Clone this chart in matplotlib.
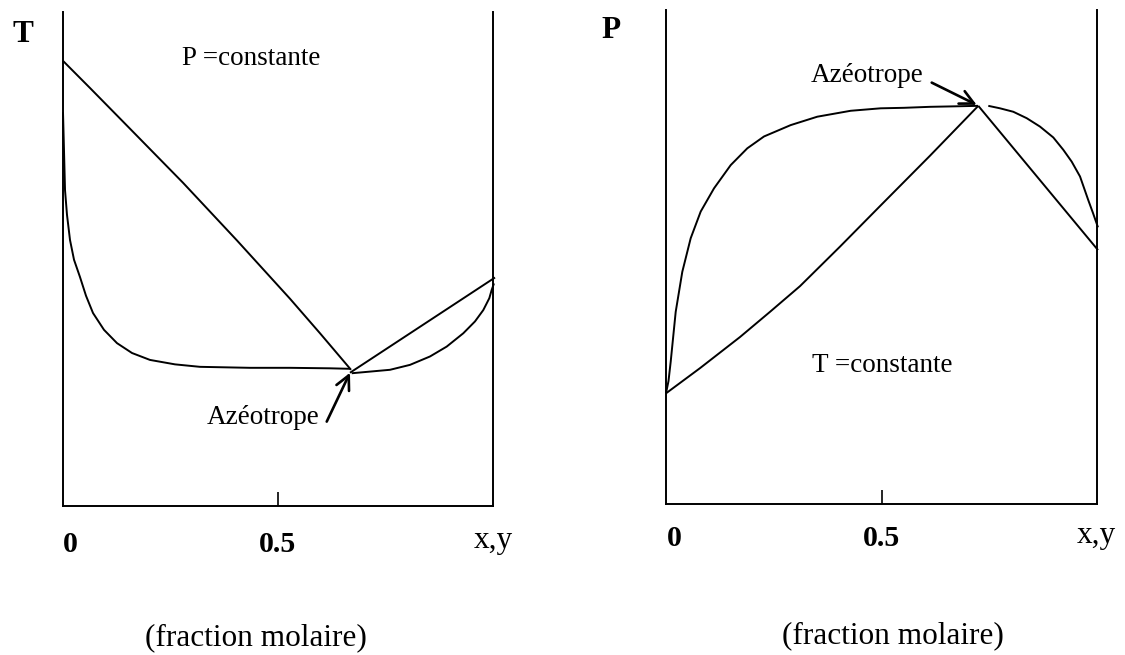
import matplotlib
matplotlib.use("Agg")
import matplotlib.pyplot as plt

plt.rcParams['font.family'] = ['Liberation Serif', 'DejaVu Serif']

# ---- Left panel: T-x,y diagram at constant pressure (minimum-boiling azeotrope)
t_bubble_x = [0.0, 0.0023, 0.0047, 0.0093, 0.0163, 0.0256, 0.0395, 0.0535, 0.0698,
              0.0953, 0.1256, 0.1605, 0.2023, 0.2605, 0.3186, 0.4349, 0.5279, 0.6209, 0.6674]
t_bubble_y = [79.8, 72.1, 64.0, 59.0, 53.9, 49.9, 46.4, 42.6, 39.1,
              35.7, 33.0, 31.0, 29.6, 28.7, 28.2, 28.0, 28.0, 27.9, 27.8]
t_dew_x = [0.0, 0.0628, 0.1395, 0.2791, 0.4047, 0.5279, 0.5977, 0.6698]
t_dew_y = [90.2, 84.7, 77.9, 65.5, 53.8, 42.0, 35.0, 27.6]
t_dew_right_x = [0.6674, 1.0047]
t_dew_right_y = [27.0, 46.3]
t_bubble_right_x = [0.6714, 0.7605, 0.8070, 0.8535, 0.8923, 0.9309, 0.9581,
                    0.9774, 0.9914, 0.9970, 1.0023]
t_bubble_right_y = [26.9, 27.6, 28.6, 30.3, 32.3, 35.0, 37.4,
                    39.7, 42.1, 43.8, 45.1]
t_azeo_tip = (0.6674, 27.0)
t_azeo_tail = (0.6133, 17.1)

# ---- Right panel: P-x,y diagram at constant temperature (maximum-pressure azeotrope)
p_bubble_x = [0.0, 0.0058, 0.0109, 0.0225, 0.0378, 0.0573, 0.0805, 0.1114, 0.1501,
              0.1886, 0.2274, 0.2893, 0.3510, 0.4285, 0.4981, 0.5522, 0.6125,
              0.6705, 0.7239]
p_bubble_y = [22.4, 24.9, 28.8, 38.9, 47.0, 53.8, 59.2, 63.9, 68.6,
              72.0, 74.4, 76.7, 78.4, 79.6, 80.1, 80.2, 80.4,
              80.5, 80.6]
p_dew_x = [0.0, 0.0789, 0.1717, 0.2413, 0.3109, 0.4037, 0.4965, 0.6125, 0.7246]
p_dew_y = [22.4, 27.5, 33.8, 38.9, 44.1, 52.1, 60.3, 70.5, 80.6]
p_dew_right_x = [0.7246, 1.0023]
p_dew_right_y = [80.6, 51.4]
p_bubble_right_x = [0.7478, 0.7749, 0.8058, 0.8369, 0.8677, 0.8986, 0.9218, 0.9413,
                    0.9606, 0.9798, 0.9907, 1.0023]
p_bubble_right_y = [80.6, 80.1, 79.4, 78.1, 76.4, 74.2, 71.7, 69.3,
                    66.3, 61.5, 58.9, 56.0]
p_azeo_tip = (0.7209, 80.8)
p_azeo_tail = (0.6165, 85.3)

tick_positions = [0.5]
tick_labels = ['0.5']

W, H = 1125, 655
fig = plt.figure(figsize=(W / 100, H / 100), dpi=100)
fig.patch.set_facecolor('white')

ax_t = fig.add_axes([63 / W, 1 - 506 / H, 430 / W, 493.5 / H])
ax_p = fig.add_axes([666 / W, 1 - 504 / H, 431 / W, 494 / H])

LW = 1.4
line_kw = dict(color='black', lw=LW, clip_on=False, solid_capstyle='butt',
               solid_joinstyle='round')

for ax in (ax_t, ax_p):
    ax.set_xlim(0, 1)
    ax.set_ylim(0, 100)
    ax.spines['top'].set_visible(False)
    for s in ('left', 'right', 'bottom'):
        ax.spines[s].set_linewidth(1.4)
    ax.set_yticks([])
    ax.set_xticks(tick_positions)
    ax.set_xticklabels([''] * len(tick_positions))
    ax.tick_params(axis='x', direction='in', length=10, width=1.2)
    ax.patch.set_alpha(0)

# Left panel curves
ax_t.plot(t_bubble_x, t_bubble_y, **line_kw)
ax_t.plot(t_dew_x, t_dew_y, **line_kw)
ax_t.plot(t_dew_right_x, t_dew_right_y, **line_kw)
ax_t.plot(t_bubble_right_x, t_bubble_right_y, **line_kw)

# Right panel curves
ax_p.plot(p_bubble_x, p_bubble_y, **line_kw)
ax_p.plot(p_dew_x, p_dew_y, **line_kw)
ax_p.plot(p_dew_right_x, p_dew_right_y, **line_kw)
ax_p.plot(p_bubble_right_x, p_bubble_right_y, **line_kw)

arrow_kw = dict(arrowstyle='->,head_length=0.5,head_width=0.25', lw=1.9,
                color='black', shrinkA=0, shrinkB=0, mutation_scale=20)
ax_t.annotate('', xy=t_azeo_tip, xytext=t_azeo_tail, arrowprops=arrow_kw)
ax_p.annotate('', xy=p_azeo_tip, xytext=p_azeo_tail, arrowprops=arrow_kw)

TXT = 19.5
LBL = 21.5
CAP = 22.5

# Left panel texts
ta = ax_t.transAxes
ax_t.text(-0.093, 0.9396, 'T', transform=ta, ha='center', va='baseline',
          fontsize=CAP, fontweight='bold')
ax_t.text(0.2767, 0.8928, 'P =constante', transform=ta, ha='left', va='baseline', fontsize=TXT)
ax_t.text(0.3342, 0.1662, 'Azéotrope', transform=ta, ha='left', va='baseline', fontsize=TXT)
ax_t.text(0.0, -0.0926, '0', transform=ta, ha='left', va='baseline',
          fontsize=LBL, fontweight='bold')
ax_t.text(0.5, -0.0926, tick_labels[0], transform=ta, ha='center', va='baseline',
          fontsize=LBL, fontweight='bold')
ax_t.text(1.0, -0.0851, 'x,y', transform=ta, ha='center', va='baseline', fontsize=CAP)
ax_t.text(0.4488, -0.2817, '(fraction molaire)', transform=ta, ha='center',
          va='baseline', fontsize=CAP)

# Right panel texts
tp = ax_p.transAxes
ax_p.text(-0.1265, 0.9433, 'P', transform=tp, ha='center', va='baseline',
          fontsize=CAP, fontweight='bold')
ax_p.text(0.3364, 0.8543, 'Azéotrope', transform=tp, ha='left', va='baseline', fontsize=TXT)
ax_p.text(0.3381, 0.2672, 'T =constante', transform=tp, ha='left', va='baseline', fontsize=TXT)
ax_p.text(0.0016, -0.0850, '0', transform=tp, ha='left', va='baseline',
          fontsize=LBL, fontweight='bold')
ax_p.text(0.5, -0.0850, tick_labels[0], transform=tp, ha='center', va='baseline',
          fontsize=LBL, fontweight='bold')
ax_p.text(0.9977, -0.0796, 'x,y', transform=tp, ha='center', va='baseline', fontsize=CAP)
ax_p.text(0.5267, -0.2814, '(fraction molaire)', transform=tp, ha='center',
          va='baseline', fontsize=CAP)

fig.savefig('out.png', dpi=100, facecolor='white')
